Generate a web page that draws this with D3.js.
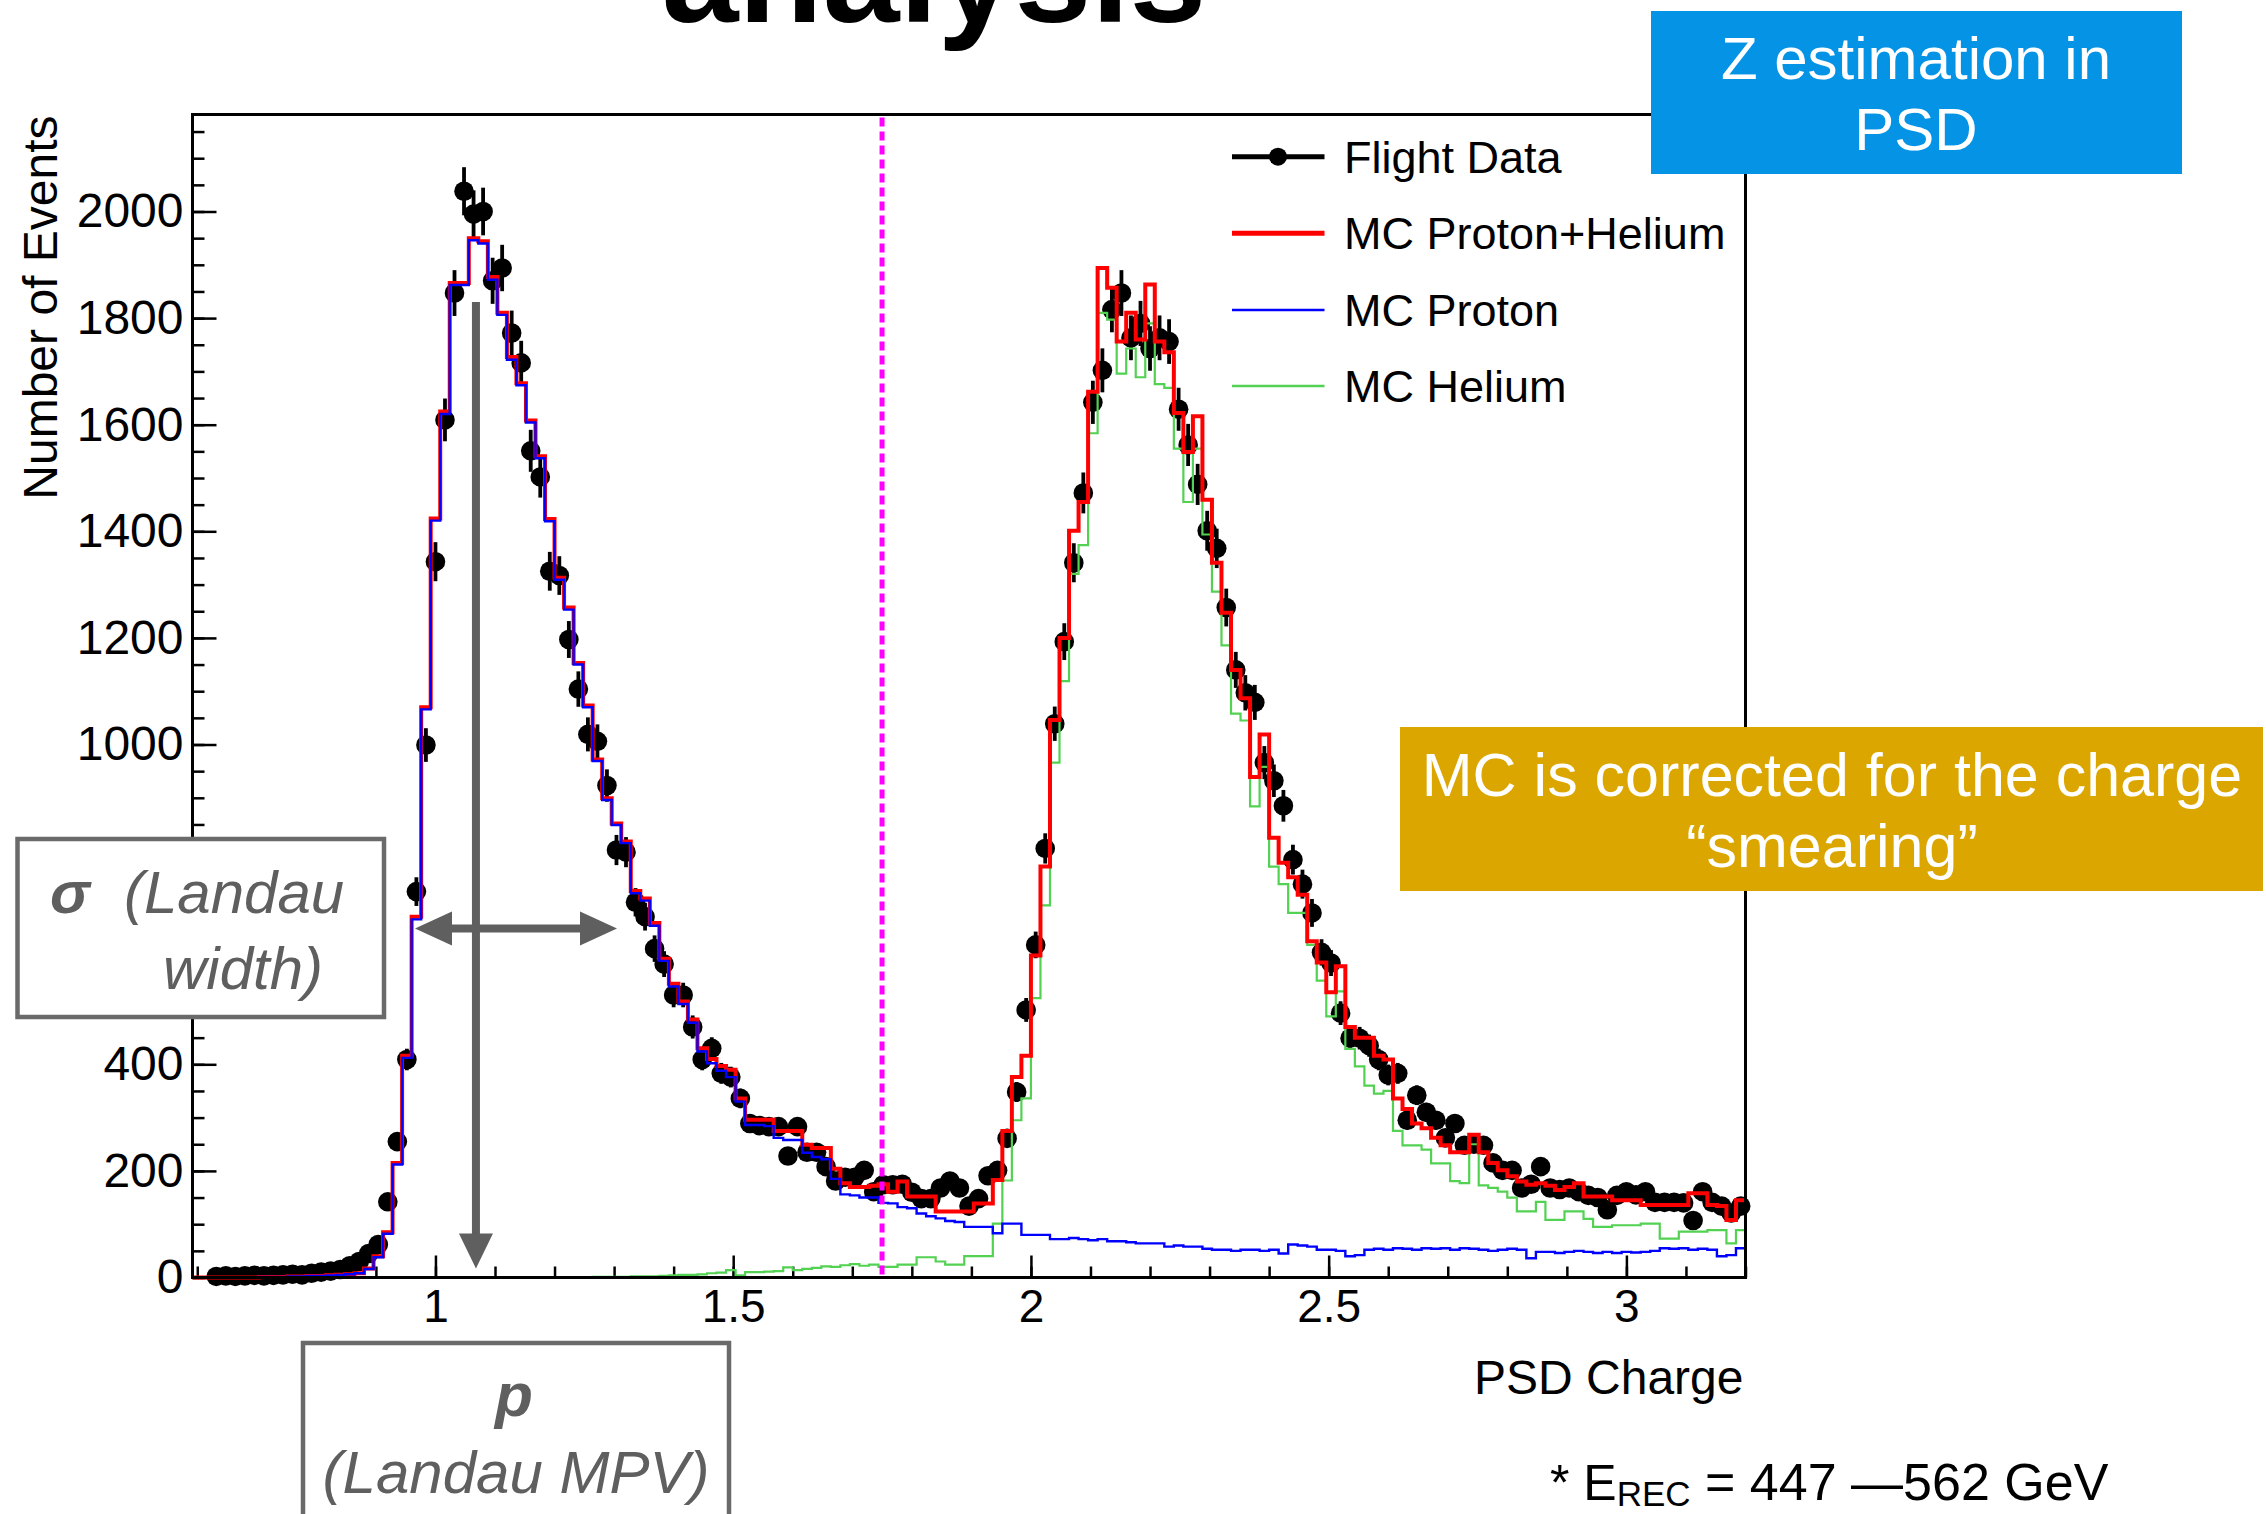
<!DOCTYPE html>
<html><head><meta charset="utf-8">
<script src="https://cdn.jsdelivr.net/npm/d3@7"></script>
<style>
html,body{margin:0;padding:0;background:#fff;}
svg{display:block;}
text{font-family:"Liberation Sans",Arial,Helvetica,sans-serif;}
</style></head><body>
<svg id="chart" width="2266" height="1514"></svg>
<script>
// ---- histogram definition (PSD charge bins) ----
const binLow = 0.592;
const binWidth = 0.016;

const flightData = [0,0,2,3,2,3,4,3,4,5,
6,5,8,10,12,15,22,30,45,62,
142,255,409,724,999,1343,1609,1847,2038,1995,
2000,1870,1894,1772,1716,1551,1502,1325,1317,1197,
1104,1019,1006,923,802,798,704,677,617,588,
530,530,470,409,430,383,376,336,289,285,
283,283,228,283,235,235,208,181,188,188,
201,161,174,174,175,160,148,148,168,181,
168,134,148,191,201,261,348,502,624,805,
1039,1193,1341,1472,1642,1702,1816,1847,1763,1790,
1743,1763,1756,1629,1562,1488,1401,1368,1257,1140,
1097,1079,966,932,885,784,738,684,610,590,
496,449,449,435,409,380,383,295,342,310,
295,262,289,248,250,248,215,201,201,168,
175,208,168,165,168,161,154,150,127,154,
161,155,161,141,141,141,140,107,161,141,
134,121,134];

const mcProtonHelium = [0,0,0,0,0,0,0,1,1,1,
2,2,3,3,4,5,6,8,17,40,
85,215,416,677,1070,1424,1625,1866,1866,1950,
1944,1877,1810,1727,1678,1608,1541,1423,1313,1257,
1153,1073,972,899,852,818,725,711,665,598,
551,518,484,430,410,397,390,336,296,296,
296,275,275,275,249,243,243,204,177,170,
170,172,175,161,180,152,152,152,124,124,
124,124,139,139,183,275,376,416,604,771,
1046,1200,1401,1455,1662,1894,1857,1756,1810,1760,
1863,1756,1736,1622,1549,1616,1459,1341,1247,1140,
1087,939,1019,825,778,751,718,631,591,535,
584,470,450,450,416,409,336,316,289,280,
262,248,235,235,268,235,215,201,190,180,
174,177,172,164,170,177,152,152,152,145,
145,145,136,136,136,136,136,158,158,136,
134,108,145];

const mcProton = [0,0,0,0,0,0,0,1,1,1,
2,2,3,3,4,5,6,8,16,38,
82,212,412,672,1066,1420,1620,1862,1862,1946,
1940,1872,1806,1722,1674,1604,1537,1419,1309,1253,
1150,1070,969,896,849,815,721,707,660,594,
546,513,478,424,402,388,376,330,286,286,
284,262,258,258,234,226,222,185,156,154,
150,150,140,139,132,130,120,115,111,106,
104,95,95,95,83,101,101,80,80,80,
72,72,74,72,70,72,68,68,66,64,
64,64,58,60,58,58,54,52,52,50,
52,52,50,52,45,62,60,58,52,52,
50,40,42,52,54,52,55,54,52,55,
54,55,52,55,54,52,50,52,54,52,
36,48,48,46,48,50,48,46,48,46,
48,47,48,50,55,54,55,52,54,52,
40,42,55];

const mcHelium = [0,0,0,0,0,0,0,0,0,0,
0,0,0,0,0,0,0,0,0,0,
0,0,0,0,0,0,0,0,0,0,
0,0,0,0,0,0,0,0,0,0,
0,0,1,1,1,1,2,2,2,3,
4,5,5,6,8,9,14,4,10,10,
11,12,19,14,16,18,21,20,23,25,
22,24,20,20,24,24,38,38,30,24,
24,40,40,40,101,182,295,336,524,698,
966,1119,1320,1374,1584,1810,1797,1696,1743,1689,
1790,1676,1669,1555,1455,1555,1394,1287,1186,1058,
1045,884,958,771,738,684,684,624,557,490,
537,429,396,360,345,350,275,248,248,240,
214,214,181,177,250,173,168,161,150,124,
124,142,108,108,124,124,110,95,95,98,
98,98,101,101,73,73,86,86,86,89,
89,64,89];

const xTickLabels = [1, 1.5, 2, 2.5, 3];
const xMinorTicks = [0.6,0.7,0.8,0.9,1.0,1.1,1.2,1.3,1.4,1.5,1.6,1.7,1.8,1.9,2.0,2.1,2.2,2.3,2.4,2.5,2.6,2.7,2.8,2.9,3.0,3.1,3.2];
const yMajorTicks = [0,200,400,600,800,1000,1200,1400,1600,1800,2000];
// labels 600 and 800 are hidden behind the sigma box in the reference
const yTickLabels = [0,200,400,1000,1200,1400,1600,1800,2000];
const legendLabels = ["Flight Data","MC Proton+Helium","MC Proton","MC Helium"];
const cutValue = 1.75;
const landauMPV = 1.068;
const landauWidthRange = [0.9656, 1.3049];
const landauWidthLevel = 655;

// ---- layout ----
const svg = d3.select("#chart");
const P = {left:192.5, right:1745.5, top:114.5, bottom:1277.5};
const x = d3.scaleLinear().domain([0.592, 3.2]).range([P.left, P.right]);
const y = d3.scaleLinear().domain([0, 2182]).range([P.bottom, P.top]);
const FONT = '"Liberation Sans",Arial,Helvetica,sans-serif';
const GRAY = "#5f5f5f";

svg.append("rect").attr("width",2266).attr("height",1514).attr("fill","#fff");

// title fragment
svg.append("text").attr("x",934).attr("y",22).attr("text-anchor","middle")
  .attr("font-size",138).attr("font-weight","bold").attr("fill","#000").text("analysis");

const nBins = flightData.length;
const edges = d3.range(nBins+1).map(i => binLow + i*binWidth);
const centers = d3.range(nBins).map(i => binLow + (i+0.5)*binWidth);

// axes
const yAxis = d3.axisLeft(y).tickValues(yMajorTicks).tickSizeInner(-24).tickSizeOuter(0)
  .tickPadding(9).tickFormat(d => yTickLabels.includes(d) ? d3.format("d")(d) : "");
const gY = svg.append("g").attr("transform",`translate(${P.left},0)`).call(yAxis);
gY.select(".domain").remove();
gY.attr("font-size",48).attr("font-family",FONT);
gY.selectAll("line").attr("stroke","#000").attr("stroke-width",2.5);
gY.selectAll("text").attr("fill","#000");
gY.selectAll("text").filter(function(){ return this.textContent === ""; }).remove();

const gYm = svg.append("g").attr("transform",`translate(${P.left},0)`)
  .call(d3.axisLeft(y).tickValues(d3.range(0, 2182, 50)).tickSizeInner(-12).tickSizeOuter(0).tickFormat(""));
gYm.select(".domain").remove();
gYm.selectAll("text").remove();
gYm.selectAll("line").attr("stroke","#000").attr("stroke-width",2.5);

const xAxis = d3.axisBottom(x).tickValues(xTickLabels).tickSizeInner(-22).tickSizeOuter(0)
  .tickPadding(12).tickFormat(d3.format("~g"));
const gX = svg.append("g").attr("transform",`translate(0,${P.bottom})`).call(xAxis);
gX.select(".domain").remove();
gX.attr("font-size",46).attr("font-family",FONT);
gX.selectAll("line").attr("stroke","#000").attr("stroke-width",2.5);
gX.selectAll("text").attr("fill","#000");

const gXm = svg.append("g").attr("transform",`translate(0,${P.bottom})`)
  .call(d3.axisBottom(x).tickValues(xMinorTicks).tickSizeInner(-11).tickSizeOuter(0).tickFormat(""));
gXm.select(".domain").remove();
gXm.selectAll("text").remove();
gXm.selectAll("line").attr("stroke","#000").attr("stroke-width",2.5);

// axis titles
svg.append("text").attr("transform",`translate(57,${P.top+1}) rotate(-90)`)
  .attr("text-anchor","end").attr("font-size",48).attr("fill","#000").text("Number of Events");
svg.append("text").attr("x",P.right-2).attr("y",1394).attr("text-anchor","end")
  .attr("font-size",48).attr("fill","#000").text("PSD Charge");

// data points with errors
const gData = svg.append("g");
const pts = centers.map((c,i)=>({c, v: flightData[i]})).filter(d=>d.v>0);
gData.selectAll("line.err").data(pts).enter().append("line")
  .attr("x1",d=>x(d.c)).attr("x2",d=>x(d.c))
  .attr("y1",d=>y(d.v - Math.sqrt(d.v))).attr("y2",d=>y(d.v + Math.sqrt(d.v)))
  .attr("stroke","#000").attr("stroke-width",3.8);
gData.selectAll("circle").data(pts).enter().append("circle")
  .attr("cx",d=>x(d.c)).attr("cy",d=>y(d.v)).attr("r",9.8).attr("fill","#000");

// MC histograms
function stepPath(vals){
  const p = vals.map((v,i)=>[edges[i], v]);
  p.push([edges[nBins], vals[nBins-1]]);
  return d3.line().x(d=>x(d[0])).y(d=>y(d[1])).curve(d3.curveStepAfter)(p);
}
svg.append("path").attr("d",stepPath(mcHelium)).attr("fill","none").attr("stroke","#52d152").attr("stroke-width",2.2);
svg.append("path").attr("d",stepPath(mcProtonHelium)).attr("fill","none").attr("stroke","#ff0000").attr("stroke-width",4);
svg.append("path").attr("d",stepPath(mcProton)).attr("fill","none").attr("stroke","#0000ff").attr("stroke-width",2.4);

// cut line
svg.append("line").attr("x1",x(cutValue)).attr("x2",x(cutValue)).attr("y1",P.top+3).attr("y2",P.bottom)
  .attr("stroke","#ff00ff").attr("stroke-width",5).attr("stroke-dasharray","9,5");

// frame
svg.append("rect").attr("x",P.left).attr("y",P.top).attr("width",P.right-P.left).attr("height",P.bottom-P.top)
  .attr("fill","none").attr("stroke","#000").attr("stroke-width",3);

// legend
const legY = [156.7, 233.3, 310, 386];
const legColors = ["#000","#ff0000","#0000ff","#52d152"];
const legWidths = [5, 5, 2.6, 2.6];
legendLabels.forEach((lab,i)=>{
  svg.append("line").attr("x1",1232).attr("x2",1324.5).attr("y1",legY[i]).attr("y2",legY[i])
    .attr("stroke",legColors[i]).attr("stroke-width",legWidths[i]);
  if(i===0) svg.append("circle").attr("cx",1278).attr("cy",legY[i]).attr("r",9).attr("fill","#000");
  svg.append("text").attr("x",1344).attr("y",legY[i]+16).attr("font-size",45).attr("fill","#000").text(lab);
});

// Landau annotations (arrows)
const vx = x(landauMPV), vTop = y(1830), vTip = y(16.7);
svg.append("line").attr("x1",vx).attr("x2",vx).attr("y1",vTop).attr("y2",vTip-34)
  .attr("stroke",GRAY).attr("stroke-width",8);
svg.append("path").attr("d",`M${vx-17},${vTip-35}L${vx+17},${vTip-35}L${vx},${vTip}Z`).attr("fill",GRAY);
const hy = y(landauWidthLevel), hx1 = x(landauWidthRange[0]), hx2 = x(landauWidthRange[1]);
svg.append("line").attr("x1",hx1+35).attr("x2",hx2-35).attr("y1",hy).attr("y2",hy)
  .attr("stroke",GRAY).attr("stroke-width",8);
svg.append("path").attr("d",`M${hx1},${hy}L${hx1+37},${hy-17}L${hx1+37},${hy+17}Z`).attr("fill",GRAY);
svg.append("path").attr("d",`M${hx2},${hy}L${hx2-37},${hy-17}L${hx2-37},${hy+17}Z`).attr("fill",GRAY);

// sigma box
svg.append("rect").attr("x",17.5).attr("y",839).attr("width",366.5).attr("height",178)
  .attr("fill","#fff").attr("stroke","#6a6a6a").attr("stroke-width",4.5);
const s1 = svg.append("text").attr("y",913).attr("font-size",60).attr("fill",GRAY);
s1.append("tspan").attr("x",50).attr("font-weight","bold").attr("font-style","italic").text("σ");
s1.append("tspan").attr("x",124).attr("font-style","italic").text("(Landau");
svg.append("text").attr("x",163).attr("y",989).attr("font-size",60).attr("font-style","italic")
  .attr("fill",GRAY).text("width)");

// MPV box
svg.append("rect").attr("x",303).attr("y",1343).attr("width",426).attr("height",220)
  .attr("fill","#fff").attr("stroke","#6a6a6a").attr("stroke-width",4.5);
svg.append("text").attr("x",514).attr("y",1416).attr("text-anchor","middle").attr("font-size",62)
  .attr("font-weight","bold").attr("font-style","italic").attr("fill",GRAY).text("p");
svg.append("text").attr("x",516).attr("y",1493).attr("text-anchor","middle").attr("font-size",60)
  .attr("font-style","italic").attr("fill",GRAY).text("(Landau MPV)");

// blue box
svg.append("rect").attr("x",1651).attr("y",11).attr("width",531).attr("height",163).attr("fill","#0593e6");
svg.append("text").attr("x",1916).attr("y",79).attr("text-anchor","middle").attr("font-size",60)
  .attr("fill","#fff").text("Z estimation in");
svg.append("text").attr("x",1916).attr("y",150).attr("text-anchor","middle").attr("font-size",60)
  .attr("fill","#fff").text("PSD");

// gold box
svg.append("rect").attr("x",1400).attr("y",727).attr("width",863).attr("height",164).attr("fill","#dba600");
svg.append("text").attr("x",1832).attr("y",796).attr("text-anchor","middle").attr("font-size",61)
  .attr("fill","#fff").text("MC is corrected for the charge");
svg.append("text").attr("x",1832).attr("y",867).attr("text-anchor","middle").attr("font-size",61)
  .attr("fill","#fff").text("\u201Csmearing\u201D");

// footnote
const fn = svg.append("text").attr("x",1550).attr("y",1500).attr("font-size",50).attr("fill","#000");
fn.append("tspan").text("* E");
fn.append("tspan").attr("font-size",35).attr("dy",6).text("REC");
fn.append("tspan").attr("font-size",52).attr("dy",-6).text(" = 447 \u2014562 GeV");
</script>
</body></html>
